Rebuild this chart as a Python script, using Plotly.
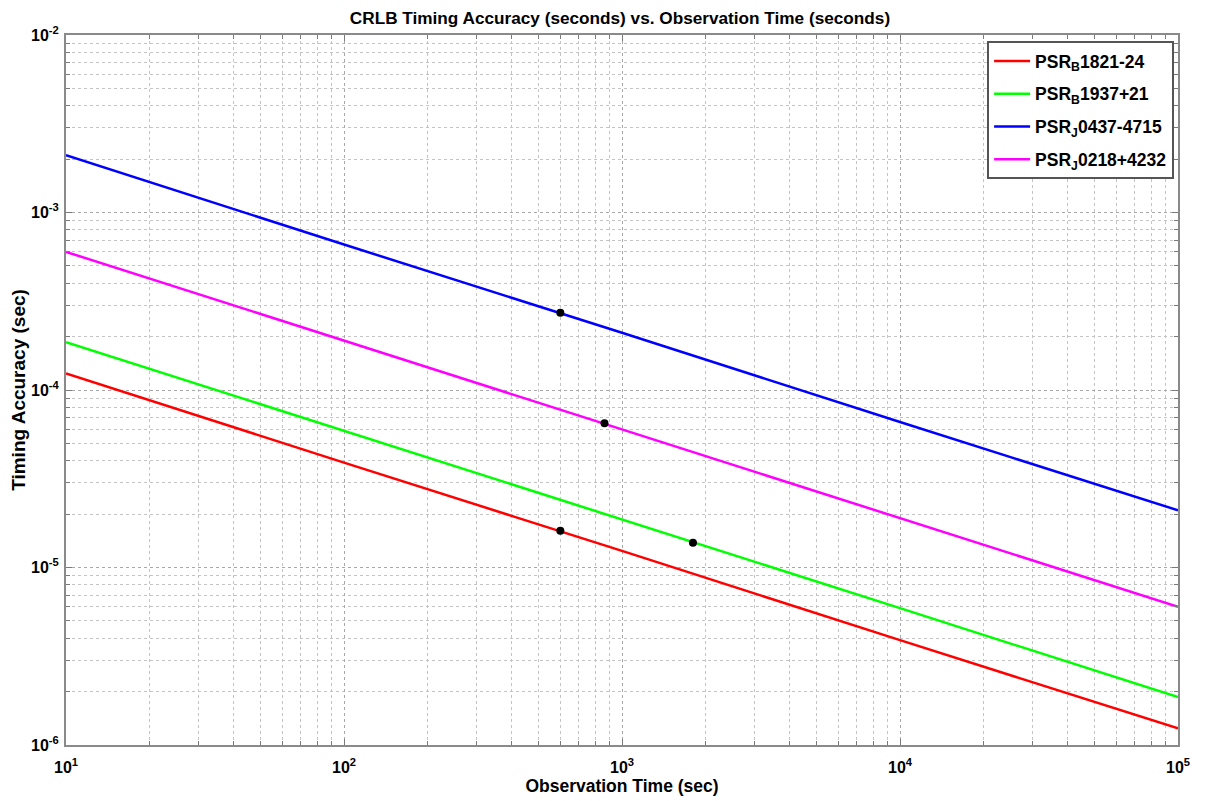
import plotly.graph_objects as go

# Observation time (s) at each decade
obs_time = [10, 100, 1000, 10000, 100000]

# Timing accuracy (s)
psr_b1821 = [1.24e-4, 3.9e-5, 1.24e-5, 3.9e-6, 1.24e-6]
psr_b1937 = [1.86e-4, 5.9e-5, 1.86e-5, 5.9e-6, 1.86e-6]
psr_j0437 = [2.1e-3, 6.6e-4, 2.1e-4, 6.6e-5, 2.1e-5]
psr_j0218 = [6.0e-4, 1.9e-4, 6.0e-5, 1.9e-5, 6.0e-6]

series_names = ["PSR<sub>B</sub>1821-24", "PSR<sub>B</sub>1937+21",
                "PSR<sub>J</sub>0437-4715", "PSR<sub>J</sub>0218+4232"]
series_colors = ["#ff0000", "#00ff00", "#0000ff", "#ff00ff"]

# Highlighted points (black dots)
mark_x = [600, 1800, 600, 865]
mark_y = [1.61e-5, 1.38e-5, 2.72e-4, 6.49e-5]

x_tickvals = [10, 100, 1000, 10000, 100000]
x_ticktext = ["<b>10<sup>1</sup></b>", "<b>10<sup>2</sup></b>", "<b>10<sup>3</sup></b>",
              "<b>10<sup>4</sup></b>", "<b>10<sup>5</sup></b>"]
y_tickvals = [1e-6, 1e-5, 1e-4, 1e-3, 1e-2]
y_ticktext = ["<b>10<sup>-6</sup></b>", "<b>10<sup>-5</sup></b>", "<b>10<sup>-4</sup></b>",
              "<b>10<sup>-3</sup></b>", "<b>10<sup>-2</sup></b>"]

# minor tick positions (2..9 within each decade)
x_minor = [m * d for d in [10, 100, 1000, 10000] for m in range(2, 10)]
y_minor = [m * d for d in [1e-6, 1e-5, 1e-4, 1e-3] for m in range(2, 10)]

FONT = "Liberation Sans, Arial, sans-serif"

fig = go.Figure()
for i, (name, col, ys) in enumerate(zip(series_names, series_colors,
                                        [psr_b1821, psr_b1937, psr_j0437, psr_j0218])):
    fig.add_trace(go.Scatter(x=obs_time, y=ys, mode="lines", name="<b>" + name + "</b>",
                             legendgroup="g%d" % i,
                             line=dict(color=col, width=2.5)))

fig.add_trace(go.Scatter(x=mark_x, y=mark_y, mode="markers", showlegend=False,
                         marker=dict(color="black", size=8)))


def axis_common(minor_vals):
    return dict(
        type="log",
        automargin=False,
        showgrid=True,
        gridcolor="#a8a8a8",
        griddash="dot",
        gridwidth=1,
        showline=True,
        linecolor="#8a8a8a",
        linewidth=2,
        mirror="ticks",
        ticks="inside",
        ticklen=6,
        tickwidth=1,
        tickcolor="#7a7a7a",
        tickfont=dict(family=FONT, size=16, color="black"),
        zeroline=False,
        minor=dict(tickmode="array", tickvals=minor_vals,
                   showgrid=True, gridcolor="#c4c4c4", griddash="dot", gridwidth=1,
                   ticks="inside", ticklen=4, tickcolor="#7a7a7a"),
    )


fig.update_layout(
    width=1199, height=793,
    paper_bgcolor="white", plot_bgcolor="white",
    margin=dict(l=58, r=29, t=27, b=56),
    title=dict(text="<b>CRLB Timing Accuracy (seconds) vs. Observation Time (seconds)</b>",
               x=0.5104, xanchor="center", y=0.995, yanchor="top",
               pad=dict(t=0, b=0, l=0, r=0),
               font=dict(family=FONT, size=17.2, color="black")),
    xaxis=dict(axis_common(x_minor), range=[1, 5], tickvals=x_tickvals, ticktext=x_ticktext,
               ticklabelstandoff=7,
               title=dict(text="<b>Observation Time (sec)</b>", standoff=1,
                          font=dict(family=FONT, size=17.5, color="black"))),
    yaxis=dict(axis_common(y_minor), range=[-6, -2], tickvals=y_tickvals, ticktext=y_ticktext,
               ticklabelstandoff=2,
               title=dict(text="<b>Timing Accuracy (sec)</b>", standoff=4,
                          font=dict(family=FONT, size=19, color="black"))),
    legend=dict(x=0.9965, y=0.9915, xanchor="right", yanchor="top",
                bgcolor="white", bordercolor="#555555", borderwidth=2,
                font=dict(family=FONT, size=17.5, color="black"),
                itemwidth=36, tracegroupgap=7),
    showlegend=True,
)

fig.write_html("out.html")
